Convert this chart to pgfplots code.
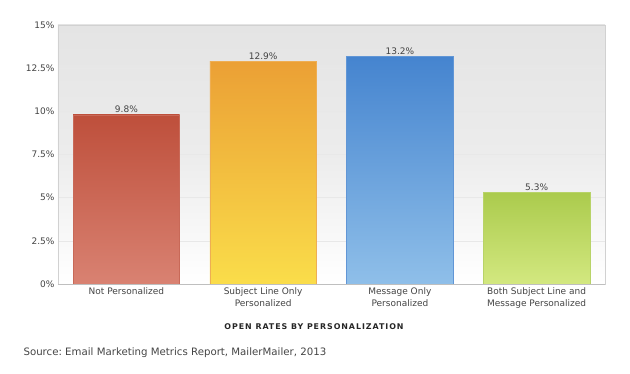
\documentclass[border=0pt]{standalone}
\usepackage{pgfplots}
\pgfplotsset{compat=1.18}
\usepackage{fontspec}
\setmainfont{DejaVu Sans}
\newfontfamily\titlefont[LetterSpace=12]{DejaVu Sans}
\definecolor{txt}{HTML}{444444}
\definecolor{redT}{HTML}{BE4F3B}
\definecolor{redB}{HTML}{D98272}
\definecolor{orT}{HTML}{EBA035}
\definecolor{orB}{HTML}{FADD4A}
\definecolor{blT}{HTML}{4584CF}
\definecolor{blB}{HTML}{8FBFE9}
\definecolor{grT}{HTML}{ABCB4D}
\definecolor{grB}{HTML}{D3E880}
\definecolor{bgT}{HTML}{E4E4E4}
\frenchspacing
\begin{document}
\begin{tikzpicture}
\begin{axis}[
  scale only axis, width=547pt, height=259pt,
  xmin=-0.5, xmax=3.5, ymin=0, ymax=15,
  ybar, bar width=0.78, bar shift=0pt,
  xtick={0,1,2,3},
  xticklabels={Not Personalized, Subject Line Only\\Personalized, Message Only\\Personalized, Both Subject Line and\\Message Personalized},
  xticklabel style={align=center, font=\fontsize{9}{12}\selectfont, text=txt},
  ytick={0,2.5,5,7.5,10,12.5,15},
  yticklabels={0\%,2.5\%,5\%,7.5\%,10\%,12.5\%,15\%},
  yticklabel style={font=\fontsize{9}{11}\selectfont, text=txt},
  /pgf/number format/assume math mode=true,
  major tick length=0pt,
  ymajorgrids, grid style={color=black!9, line width=0.6pt},
  axis line style={color=black!18},
  axis background/.style={top color=bgT, bottom color=white, middle color=bgT!70!white},
  nodes near coords={\pgfmathprintnumber[fixed,precision=1,fixed zerofill]{\pgfplotspointmeta}\%},
  nodes near coords style={font=\fontsize{9}{11}\selectfont, text=txt, inner sep=1.5pt},
  clip=false,
]
\addplot[draw=redT!85, line width=0.5pt, top color=redT, bottom color=redB] coordinates {(0,9.8)};
\addplot[draw=orT!85, line width=0.5pt, top color=orT, bottom color=orB] coordinates {(1,12.9)};
\addplot[draw=blT!85, line width=0.5pt, top color=blT, bottom color=blB] coordinates {(2,13.2)};
\addplot[draw=grT!85, line width=0.5pt, top color=grT, bottom color=grB] coordinates {(3,5.3)};
\draw[color=black!25, line width=0.8pt] (rel axis cs:0,0) -- (rel axis cs:1,0);
\end{axis}
\node[font=\titlefont\bfseries\fontsize{7.9}{9}\selectfont, text=black!85] at (256pt,-43pt) {OPEN RATES BY PERSONALIZATION};
\node[anchor=base west, font=\fontsize{10.2}{12}\selectfont, text=txt] at (-38pt,-72pt) {Source: Email Marketing Metrics Report, MailerMailer, 2013};
\path[use as bounding box] (-58pt,-90pt) rectangle (572pt,284pt);
\end{tikzpicture}
\end{document}
